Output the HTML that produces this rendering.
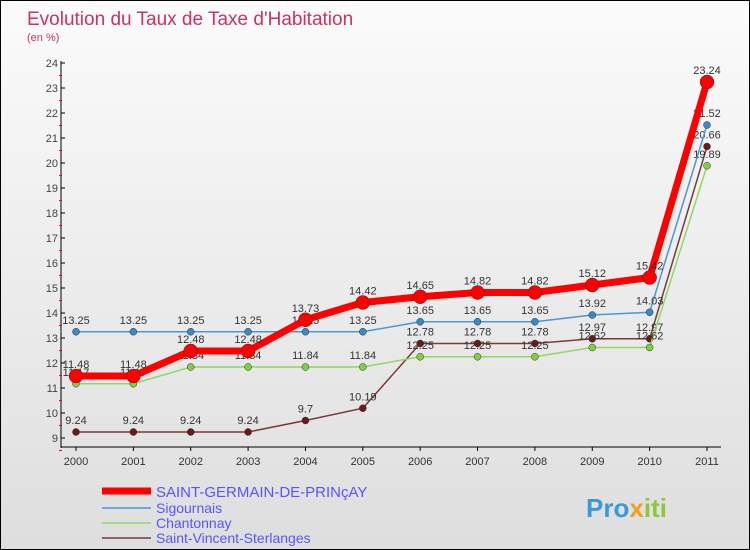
<!DOCTYPE html>
<html><head><meta charset="utf-8"><style>
body{margin:0;}
#c{width:748px;height:548px;border:1px solid #000;background:linear-gradient(#fbfbfb,#dedede);position:relative;overflow:hidden;font-family:"Liberation Sans",sans-serif;}
</style></head><body>
<div id="c">
<svg id="s" width="748" height="548" xmlns="http://www.w3.org/2000/svg">
<text x="26" y="24" font-size="19" fill="#c8345e">Evolution du Taux de Taxe d'Habitation</text>
<text x="26" y="40" font-size="11" fill="#c8345e">(en %)</text>
<g id="axes"></g><g id="series"></g>
<g>
<line x1="101" y1="490" x2="150" y2="490" stroke="#f00" stroke-width="7"/>
<text x="155" y="496" font-size="15" fill="#55f">SAINT-GERMAIN-DE-PRINçAY</text>
<line x1="101" y1="507" x2="150" y2="507" stroke="#4d96d4" stroke-width="1.5"/>
<text x="155" y="512" font-size="14" fill="#55f">Sigournais</text>
<line x1="101" y1="522" x2="150" y2="522" stroke="#8ed863" stroke-width="1.5"/>
<text x="155" y="527" font-size="14" fill="#55f">Chantonnay</text>
<line x1="101" y1="537" x2="150" y2="537" stroke="#7a3a3a" stroke-width="1.5"/>
<text x="155" y="542" font-size="14" fill="#55f">Saint-Vincent-Sterlanges</text>
</g>
<text x="585" y="516" font-size="26" font-weight="bold" fill="#3a9ad8">Pro<tspan fill="#f0a020">x</tspan><tspan fill="#8ec63f">iti</tspan></text>
</svg></div>
<script>
const years=["2000","2001","2002","2003","2004","2005","2006","2007","2008","2009","2010","2011"];
const yTicks=[9,10,11,12,13,14,15,16,17,18,19,20,21,22,23,24];
const sgdp=[11.48,11.48,12.48,12.48,13.73,14.42,14.65,14.82,14.82,15.12,15.42,23.24];
const sigournais=[13.25,13.25,13.25,13.25,13.25,13.25,13.65,13.65,13.65,13.92,14.03,21.52];
const chantonnay=[11.17,11.17,11.84,11.84,11.84,11.84,12.25,12.25,12.25,12.62,12.62,19.89];
const stVincent=[9.24,9.24,9.24,9.24,9.7,10.19,12.78,12.78,12.78,12.97,12.97,20.66];
const NS="http://www.w3.org/2000/svg";
const x=i=>75+i*(706-75)/11;
const y=v=>437-(v-9)*25;
function mk(tag,attrs,parent){const e=document.createElementNS(NS,tag);for(const k in attrs)e.setAttribute(k,attrs[k]);parent.appendChild(e);return e;}
const ax=document.getElementById('axes');
let a=mk('line',{x1:60,y1:60,x2:60,y2:447,stroke:'#000'},ax);


a=mk('line',{x1:60,y1:446,x2:720,y2:446,stroke:'#000'},ax);


yTicks.forEach(t=>{
 let l=mk('line',{x1:60,y1:y(t),x2:64,y2:y(t),stroke:'#000'},ax);
 
 
 let m=mk('line',{x1:58,y1:y(t)+12.5,x2:61,y2:y(t)+12.5,stroke:'#f00'},ax);
 
 
 let tx=mk('text',{x:57,y:y(t)+4,'font-size':11,fill:'#444','text-anchor':'end'},ax);
 tx.textContent=t;
 
 
});
years.forEach((yr,i)=>{
 let l=mk('line',{x1:x(i),y1:446,x2:x(i),y2:450,stroke:'#000'},ax);
 
 
 let tx=mk('text',{x:x(i),y:464,'font-size':11,fill:'#333','text-anchor':'middle'},ax);
 tx.textContent=yr;
 
 
});
const sg=document.getElementById('series');
function series(vals,color,dot,w,r,name,fs){
 const g=mk('g',{},sg);
 
 
 const p=mk('polyline',{points:vals.map((v,i)=>x(i)+','+y(v)).join(' '),fill:'none',stroke:color,'stroke-width':w},g);
 
 
 vals.forEach((v,i)=>{
  const c=mk('circle',{cx:x(i),cy:y(v),r:r,fill:dot,stroke:'#333','stroke-width':0.5},g);
  
  
  const t=mk('text',{x:x(i),y:y(v)-8,'font-size':fs,fill:'#333','text-anchor':'middle'},g);
  t.textContent=String(v);
  
  
 });
}
series(stVincent,'#7a3a3a','#6b1a1a',1.5,3.5,'saint-vincent',11);
series(chantonnay,'#8ed863','#7fd040',1.5,3.5,'chantonnay',11);
series(sigournais,'#4d96d4','#3a88c8',1.5,3.5,'sigournais',11);
series(sgdp,'#f00','#f00',7,7,'saint-germain',11);
</script>
</body></html>
